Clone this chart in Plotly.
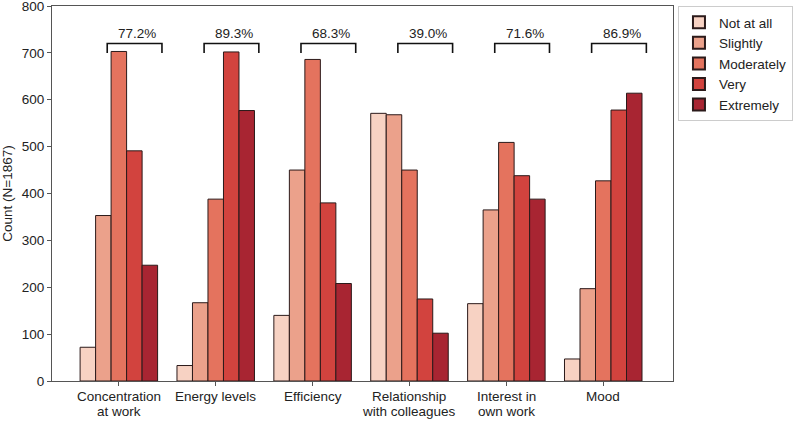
import plotly.graph_objects as go

categories = ["Concentration\nat work", "Energy levels", "Efficiency",
              "Relationship\nwith colleagues", "Interest in\nown work", "Mood"]
levels = ["Not at all", "Slightly", "Moderately", "Very", "Extremely"]
not_at_all = [72, 33, 140, 571, 165, 47]
slightly = [353, 167, 450, 568, 365, 197]
moderately = [703, 388, 686, 450, 509, 427]
very = [491, 702, 380, 175, 438, 578]
extremely = [247, 577, 208, 102, 388, 614]
pct_labels = ["77.2%", "89.3%", "68.3%", "39.0%", "71.6%", "86.9%"]

series = [not_at_all, slightly, moderately, very, extremely]
colors = ["#f7d2c3", "#eba18b", "#e4735e", "#d2433e", "#a82532"]

xs = list(range(len(categories)))
fig = go.Figure()
for name, vals, col in zip(levels, series, colors):
    fig.add_trace(go.Bar(x=xs, y=vals, name=name, marker=dict(color=col, line=dict(color="#2b1a1a", width=1))))

font = "Liberation Sans, Arial, sans-serif"
fs = 13.5
br_lo, br_hi = 700, 720
for i, lab in enumerate(pct_labels):
    x0, x1 = i - 0.12, i + 0.445
    fig.add_shape(type="path", xref="x", yref="y",
                  path=f"M {x0} {br_lo} L {x0} {br_hi} L {x1} {br_hi} L {x1} {br_lo}",
                  line=dict(color="#111", width=1.6))
    fig.add_annotation(x=i + 0.19, y=br_hi + 1, xref="x", yref="y", text=lab, showarrow=False,
                       yanchor="bottom", font=dict(size=fs, color="#222", family=font))

# category labels, line by line (tighter line spacing like the reference)
for i, cat in enumerate(categories):
    for j, line in enumerate(cat.split("\n")):
        fig.add_annotation(x=i, y=0, xref="x", yref="paper", text=line, showarrow=False,
                           yanchor="top", yshift=-6 - 14.5 * j,
                           font=dict(size=fs, color="#222", family=font))

fig.update_layout(
    width=800, height=421,
    margin=dict(l=52, r=127, t=6, b=40, autoexpand=False),
    plot_bgcolor="white", paper_bgcolor="white",
    barmode="group", bargap=0.2, bargroupgap=0,
    font=dict(family=font, size=fs, color="#222"),
    legend=dict(x=1.008, y=1.0, xanchor="left", yanchor="top", bgcolor="white",
                bordercolor="#cccccc", borderwidth=1, font=dict(size=fs, family=font),
                tracegroupgap=0, itemsizing="constant", itemwidth=30),
    xaxis=dict(range=[-0.69, 5.72], tickmode="array", tickvals=xs, showticklabels=False,
               showline=True, linecolor="#555", linewidth=1, mirror=True, ticks="outside",
               ticklen=4, tickcolor="#555", showgrid=False, zeroline=False, automargin=False),
    yaxis=dict(range=[0, 800], dtick=100, showline=True, linecolor="#555", linewidth=1,
               mirror=True, ticks="outside", ticklen=4, tickcolor="#555", showgrid=False,
               zeroline=False, automargin=False, ticklabeloverflow="allow",
               title=dict(text="Count (N=1867)", font=dict(size=fs, family=font), standoff=6),
               tickfont=dict(size=fs, family=font, color="#222")),
)
fig.write_html("out.html", config={"displayModeBar": False},
               post_script="document.body.style.margin='0';document.body.style.overflow='hidden';")
